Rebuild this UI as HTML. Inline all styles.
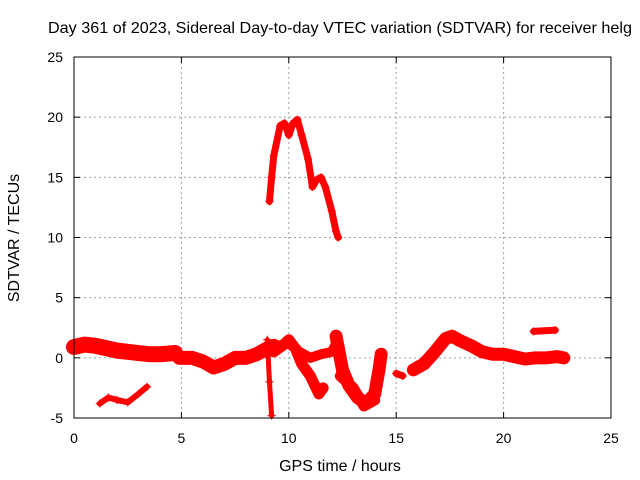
<!DOCTYPE html>
<html><head><meta charset="utf-8"><style>
body{margin:0;background:#fff;}
svg{display:block;font-family:"Liberation Sans",Arial,sans-serif;}
</style></head><body>
<svg id="chart" width="640" height="480">
<text x="340" y="33" text-anchor="middle" font-size="16" textLength="584" lengthAdjust="spacingAndGlyphs">Day 361 of 2023, Sidereal Day-to-day VTEC variation (SDTVAR) for receiver helg</text>
<text x="340" y="471" text-anchor="middle" font-size="16">GPS time / hours</text>
<text transform="translate(19,238) rotate(-90)" text-anchor="middle" font-size="16">SDTVAR / TECUs</text>
<g id="grid"></g><g id="ticks"></g><g id="series"></g>
<rect x="74" y="57" width="537" height="361" fill="none" stroke="#000" stroke-width="1"/>
</svg>
<script>
const xTicks=[0,5,10,15,20,25];
const yTicks=[-5,0,5,10,15,20,25];
const seriesEarly=[[0,0.9],[0.5,1.1],[1,1.0],[1.5,0.8],[2,0.6],[2.5,0.5],[3,0.4],[3.5,0.3],[4,0.3],[4.7,0.4]];
const seriesLow=[[1.2,-3.8],[1.6,-3.3],[2,-3.5],[2.5,-3.7],[3,-3.0],[3.4,-2.4]];
const seriesMid=[[4.9,0],[5.5,0],[6,-0.3],[6.5,-0.8],[7,-0.5],[7.5,0],[8,0],[8.5,0.3],[9,0.8],[9.3,1]];
const seriesSpike=[[9.0,1.5],[9.1,-2],[9.2,-4.8]];
const seriesDip=[[9.3,0.5],[9.7,1],[10,1.5],[10.3,0.8],[10.6,-0.5],[11,-1.5],[11.4,-3],[11.6,-2.5]];
const seriesFlat=[[9.5,1],[10,1.2],[10.5,0.5],[11,0],[11.5,0.3],[12,0.5],[12.3,1.5]];
const seriesTrough=[[12.2,1.8],[12.5,-1],[12.8,-2.3],[13.2,-3.3],[13.6,-3.8],[14,-3],[14.2,-1],[14.3,0.3]];
const seriesTrough2=[[12.4,-1.5],[13,-2.5],[13.5,-4],[14,-3.5]];
const seriesShort=[[15,-1.3],[15.3,-1.5]];
const seriesLate=[[15.8,-1],[16.3,-0.5],[16.8,0.5],[17.3,1.6],[17.6,1.8],[18,1.4],[18.5,1],[19,0.5],[19.5,0.3],[20,0.3],[20.5,0.1],[21,-0.1],[21.5,0],[22,0],[22.5,0.1],[22.8,0]];
const seriesLateHigh=[[21.4,2.2],[22.4,2.3]];
const seriesPeak=[[9.1,13],[9.2,15],[9.3,16.8],[9.6,19.3],[9.8,19.5],[10,18.5],[10.2,19.5],[10.4,19.8],[10.6,18.5],[10.9,16.5],[11.1,14.2],[11.3,14.8],[11.5,15.0],[11.7,14.2],[12.0,12.2],[12.2,10.5],[12.3,10]];
const allSeries=[seriesEarly,seriesLow,seriesMid,seriesSpike,seriesDip,seriesFlat,seriesTrough,seriesTrough2,seriesShort,seriesLate,seriesLateHigh,seriesPeak];
const bandWidths=[16,6,14,5,11,10,13,11,7,13,7,7];
const X=v=>74+v*537/25, Y=v=>418-(v+5)*361/30;
const NS="http://www.w3.org/2000/svg";
function mk(t,a,p){const e=document.createElementNS(NS,t);for(const k in a)e.setAttribute(k,a[k]);p.appendChild(e);return e;}
const grid=document.getElementById('grid'),ticks=document.getElementById('ticks'),ser=document.getElementById('series');
xTicks.forEach(t=>{
 if(t>0&&t<25){const g=mk('line',{x1:X(t),x2:X(t),y1:57,y2:418,stroke:'#a0a0a0','stroke-dasharray':'2,3'},grid);
 
 }
 mk('line',{x1:X(t),x2:X(t),y1:418,y2:412,stroke:'#000'},ticks);
 mk('line',{x1:X(t),x2:X(t),y1:57,y2:63,stroke:'#000'},ticks);
 const l=mk('text',{x:X(t),y:443,'text-anchor':'middle','font-size':14},ticks);l.textContent=t;
 
 
});
yTicks.forEach(t=>{
 if(t>-5&&t<25){const g=mk('line',{x1:74,x2:611,y1:Y(t),y2:Y(t),stroke:'#a0a0a0','stroke-dasharray':'2,3'},grid);
 
 }
 mk('line',{x1:74,x2:80,y1:Y(t),y2:Y(t),stroke:'#000'},ticks);
 mk('line',{x1:611,x2:605,y1:Y(t),y2:Y(t),stroke:'#000'},ticks);
 const l=mk('text',{x:63,y:Y(t)+5,'text-anchor':'end','font-size':14},ticks);l.textContent=t;
 
 
});
allSeries.forEach((s,i)=>{
 const pts=s.map(p=>X(p[0])+','+Y(p[1])).join(' ');
 const pl=mk('polyline',{points:pts,fill:'none',stroke:'#ff0000','stroke-width':bandWidths[i],'stroke-linejoin':'round','stroke-linecap':'round'},ser);
 
 
 s.forEach(p=>{
  const x=X(p[0]),y=Y(p[1]);
  const m=mk('path',{d:`M${x-4},${y}H${x+4}M${x},${y-4}V${y+4}`,stroke:'#ff0000','stroke-width':1.2},ser);
  
  
 });
});
</script>
</body></html>
